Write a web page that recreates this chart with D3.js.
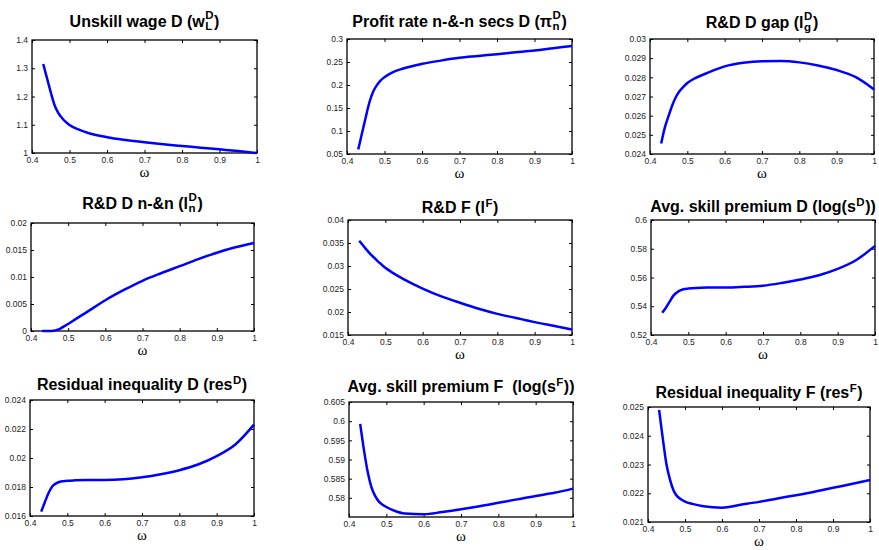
<!DOCTYPE html>
<html>
<head>
<meta charset="utf-8">
<script src="https://cdn.jsdelivr.net/npm/d3@7"></script>
<style>
  body { margin: 0; background: #fff; }
  svg { display: block; }
  .tick text { font-family: "Liberation Sans", Arial, sans-serif; font-size: 8.5px; fill: #222; }
  .tick line { stroke: #000; }
  .title { font-family: "Liberation Sans", Arial, sans-serif; font-weight: bold; fill: #000; }
  .xlabel { font-family: "Liberation Serif", "DejaVu Serif", serif; font-size: 15px; fill: #000; }
</style>
</head>
<body>
<svg id="chart" width="879" height="550"></svg>
<script>
// omega grid shared by every panel
const omega = [0.43, 0.44, 0.45, 0.46, 0.47, 0.48, 0.49, 0.5, 0.52, 0.55, 0.6, 0.65, 0.7, 0.75, 0.8, 0.85, 0.9, 0.95, 1.0];

// series
const wageD   = [1.315, 1.265, 1.215, 1.17, 1.142, 1.124, 1.11, 1.099, 1.085, 1.071, 1.056, 1.046, 1.038, 1.031, 1.025, 1.019, 1.013, 1.007, 1.0];
const profitD = [0.06, 0.095, 0.13, 0.163, 0.186, 0.2, 0.21, 0.217, 0.227, 0.236, 0.246, 0.253, 0.259, 0.263, 0.267, 0.271, 0.275, 0.28, 0.285];
const rdGapD  = [0.02455, 0.0254, 0.026, 0.02656, 0.027, 0.0273, 0.02752, 0.0277, 0.02795, 0.0282, 0.02857, 0.02876, 0.02884, 0.02885, 0.02878, 0.02862, 0.02838, 0.02802, 0.02737];
const rdNnD   = [0, 0, 0, 0.00005, 0.0002, 0.0005, 0.0009, 0.0013, 0.0022, 0.0035, 0.0057, 0.0076, 0.0093, 0.0107, 0.012, 0.0133, 0.0145, 0.0155, 0.0163];
const rdF     = [0.0355, 0.0345, 0.0335, 0.0326, 0.0318, 0.031, 0.0303, 0.0296, 0.0285, 0.0271, 0.0251, 0.0234, 0.022, 0.0207, 0.0196, 0.0187, 0.0178, 0.017, 0.0162];
const skillD  = [0.5355, 0.539, 0.5432, 0.5474, 0.5498, 0.5512, 0.552, 0.5523, 0.5527, 0.553, 0.553, 0.5535, 0.5543, 0.5562, 0.5586, 0.5616, 0.566, 0.5722, 0.582];
const resD    = [0.0163, 0.01697, 0.0176, 0.01805, 0.01825, 0.01836, 0.0184, 0.01843, 0.01846, 0.01848, 0.01848, 0.01853, 0.01867, 0.01888, 0.01916, 0.01955, 0.02013, 0.02093, 0.0223];
const skillF  = [0.5993, 0.5925, 0.5868, 0.5828, 0.5805, 0.579, 0.5782, 0.5776, 0.5767, 0.5759, 0.5757, 0.5763, 0.577, 0.5778, 0.5787, 0.5796, 0.5805, 0.5813, 0.5824];
const resF    = [0.0249, 0.0239, 0.023, 0.02245, 0.02207, 0.02188, 0.02178, 0.02171, 0.02163, 0.02155, 0.0215, 0.0216, 0.0217, 0.02182, 0.02193, 0.02205, 0.02219, 0.02232, 0.02246];

// tick labels
const xTicks = [0.4, 0.5, 0.6, 0.7, 0.8, 0.9, 1];
const yTicks1 = [1, 1.1, 1.2, 1.3, 1.4];
const yTicks2 = [0.05, 0.1, 0.15, 0.2, 0.25, 0.3];
const yTicks3 = [0.024, 0.025, 0.026, 0.027, 0.028, 0.029, 0.03];
const yTicks4 = [0, 0.005, 0.01, 0.015, 0.02];
const yTicks5 = [0.015, 0.02, 0.025, 0.03, 0.035, 0.04];
const yTicks6 = [0.52, 0.54, 0.56, 0.58, 0.6];
const yTicks7 = [0.016, 0.018, 0.02, 0.022, 0.024];
const yTicks8 = [0.58, 0.585, 0.59, 0.595, 0.6, 0.605];
const yTicks9 = [0.021, 0.022, 0.023, 0.024, 0.025];

// titles: [base, sup, sub, tail]
const titles = [
  ["Unskill wage D (w", "D", "L", ")"],
  ["Profit rate n-&-n secs D (\u03c0", "D", "n", ")"],
  ["R&D D gap (l", "D", "g", ")"],
  ["R&D D n-&n (l", "D", "n", ")"],
  ["R&D F (l", "F", "", ")"],
  ["Avg. skill premium D (log(s", "D", "", "))"],
  ["Residual inequality D (res", "D", "", ")"],
  ["Avg. skill premium F \u00a0(log(s", "F", "", "))"],
  ["Residual inequality F (res", "F", "", ")"]
];

const series = [wageD, profitD, rdGapD, rdNnD, rdF, skillD, resD, skillF, resF];
const yTicks = [yTicks1, yTicks2, yTicks3, yTicks4, yTicks5, yTicks6, yTicks7, yTicks8, yTicks9];
const yDomains = [[1, 1.4], [0.05, 0.3], [0.024, 0.03], [0, 0.02], [0.015, 0.04], [0.52, 0.6], [0.016, 0.024], [0.575, 0.605], [0.021, 0.025]];

// layout: axes box [x0, x1, y0, y1] and title baseline
const boxes = [
  [32, 257, 40, 153], [347, 572, 39, 154], [650, 874, 39, 154],
  [31, 254, 223, 331], [348, 572, 220, 335], [651, 875, 220, 335],
  [30, 254, 400, 516], [349, 573, 402, 517], [648, 870, 407, 522]
];
const titleY = [27, 27, 28, 209, 213, 212, 390, 392, 398];

const svg = d3.select("#chart");

series.forEach((vals, i) => {
  const [x0, x1, y0, y1] = boxes[i];
  const x = d3.scaleLinear().domain([0.4, 1]).range([x0, x1]);
  const y = d3.scaleLinear().domain(yDomains[i]).range([y1, y0]);
  const g = svg.append("g");

  g.append("g").attr("transform", `translate(0,${y1})`)
    .call(d3.axisBottom(x).tickValues(xTicks).tickSize(-3).tickPadding(4).tickFormat(d => String(d)));
  g.append("g").attr("transform", `translate(0,${y0})`)
    .call(d3.axisTop(x).tickValues(xTicks).tickSize(-3).tickFormat(""));
  g.append("g").attr("transform", `translate(${x0},0)`)
    .call(d3.axisLeft(y).tickValues(yTicks[i]).tickSize(-3).tickPadding(4).tickFormat(d => String(d)));
  g.append("g").attr("transform", `translate(${x1},0)`)
    .call(d3.axisRight(y).tickValues(yTicks[i]).tickSize(-3).tickFormat(""));
  g.selectAll(".domain").remove();

  g.append("rect")
    .attr("x", x0).attr("y", y0)
    .attr("width", x1 - x0).attr("height", y1 - y0)
    .attr("fill", "none").attr("stroke", "#000").attr("stroke-width", 1.3);

  const line = d3.line().x((d, j) => x(omega[j])).y(d => y(d)).curve(d3.curveMonotoneX);
  g.append("path")
    .attr("d", line(vals))
    .attr("fill", "none").attr("stroke", "#0000ff").attr("stroke-width", 2.5)
    .attr("stroke-linejoin", "round");

  g.append("text").attr("class", "xlabel")
    .attr("x", (x0 + x1) / 2).attr("y", y1 + 24)
    .attr("text-anchor", "middle").text("\u03c9");

  // title with stacked super/subscript
  const [base, sup, sub, tail] = titles[i];
  const t = g.append("g").attr("class", "title");
  const tb = t.append("text").attr("x", 0).attr("y", 0).style("font-size", "16px").text(base);
  const w0 = tb.node().getComputedTextLength();
  const ts = t.append("text").attr("x", w0 + 0.5).attr("y", sub ? -8 : -6).style("font-size", "11.5px").text(sup);
  const ws = ts.node().getComputedTextLength();
  let wsub = 0;
  if (sub) {
    const tsub = t.append("text").attr("x", w0 + 0.5).attr("y", 3).style("font-size", "11.5px").text(sub);
    wsub = tsub.node().getComputedTextLength();
  }
  const xt = w0 + 1 + Math.max(ws, wsub);
  const tt = t.append("text").attr("x", xt).attr("y", 0).style("font-size", "16px").text(tail);
  const total = xt + tt.node().getComputedTextLength();
  t.attr("transform", `translate(${(x0 + x1) / 2 - total / 2},${titleY[i]})`);
});
</script>
</body>
</html>
